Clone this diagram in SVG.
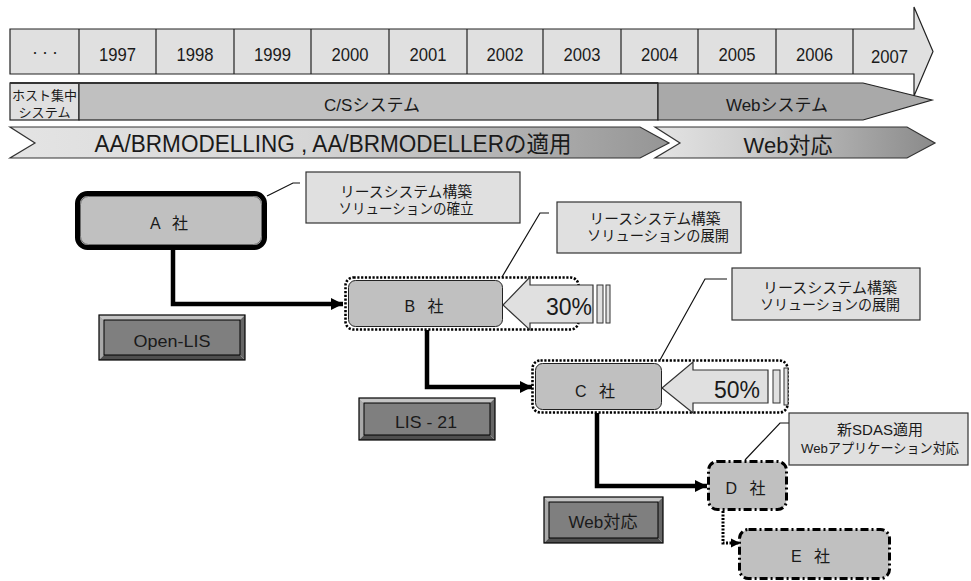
<svg xmlns="http://www.w3.org/2000/svg" width="971" height="581" viewBox="0 0 971 581">
<defs>
<style>
text{font-family:"Liberation Sans","Noto Sans CJK JP",sans-serif;fill:#1a1a1a}
.yr{font-size:19px;text-anchor:middle}
.cell{stroke:#222;stroke-width:1.2}
.call{fill:#e0e0e0;stroke:#333;stroke-width:1.2}
.ct{font-size:14.5px;text-anchor:middle}
.lead{fill:none;stroke:#111;stroke-width:1.2}
.conn{fill:none;stroke:#000;stroke-width:4.5}
.nt{font-size:16px;text-anchor:middle;word-spacing:8px}
.node{fill:#c0c0c0}
.dotbox{fill:none;stroke:#000;stroke-width:2.6;stroke-dasharray:2.2 1.6}
.dashdot{fill:#c0c0c0;stroke:#000;stroke-width:3;stroke-dasharray:8 3 2 3}
.pct{fill:#e0e0e0;stroke:#333;stroke-width:1.2}
.bar{fill:#e0e0e0;stroke:#333;stroke-width:1}
.pt{font-size:23px;text-anchor:end}
.bt{font-size:17px;text-anchor:middle}
.bvT{fill:#c4c4c4}.bvL{fill:#a9a9a9}.bvB{fill:#4f4f4f}.bvR{fill:#666}
.bin{fill:#7f7f7f;stroke:#000;stroke-width:1}
.bout{fill:none;stroke:#000;stroke-width:1.2}
</style>
<linearGradient id="g1" x1="0" y1="0" x2="1" y2="0">
<stop offset="0" stop-color="#e4e4e4"/><stop offset="0.45" stop-color="#d6d6d6"/><stop offset="1" stop-color="#959595"/>
</linearGradient>
<linearGradient id="g2" x1="0" y1="0" x2="1" y2="0">
<stop offset="0" stop-color="#e4e4e4"/><stop offset="0.3" stop-color="#d0d0d0"/><stop offset="1" stop-color="#8a8a8a"/>
</linearGradient>
<marker id="ah" viewBox="0 0 10 10" refX="10" refY="5" markerUnits="userSpaceOnUse" markerWidth="12" markerHeight="13" orient="auto"><path d="M0,0 L10,5 L0,10 z" fill="#000"/></marker>
<marker id="ah2" viewBox="0 0 10 10" refX="10" refY="5" markerUnits="userSpaceOnUse" markerWidth="9" markerHeight="10" orient="auto"><path d="M0,0 L10,5 L0,10 z" fill="#000"/></marker>
</defs>
<rect width="971" height="581" fill="#fff"/>

<g id="timeline">
<path d="M10,29 H914 V7 L933,51.5 L914,96 V74 H10 Z" fill="#e0e0e0" stroke="#222" stroke-width="1.2"/>
<path class="cell" d="M79,29V74M156,29V74M234,29V74M311,29V74M389,29V74M467,29V74M543,29V74M621,29V74M698,29V74M776,29V74M853,29V74"/>
<text x="30" y="57" style="font-size:10px">・・・</text>
<text class="yr" x="117.5" y="61" textLength="37" lengthAdjust="spacingAndGlyphs">1997</text>
<text class="yr" x="195" y="61" textLength="37" lengthAdjust="spacingAndGlyphs">1998</text>
<text class="yr" x="272.5" y="61" textLength="37" lengthAdjust="spacingAndGlyphs">1999</text>
<text class="yr" x="350" y="61" textLength="37" lengthAdjust="spacingAndGlyphs">2000</text>
<text class="yr" x="428" y="61" textLength="37" lengthAdjust="spacingAndGlyphs">2001</text>
<text class="yr" x="505" y="61" textLength="37" lengthAdjust="spacingAndGlyphs">2002</text>
<text class="yr" x="582" y="61" textLength="37" lengthAdjust="spacingAndGlyphs">2003</text>
<text class="yr" x="659.5" y="61" textLength="37" lengthAdjust="spacingAndGlyphs">2004</text>
<text class="yr" x="737" y="61" textLength="37" lengthAdjust="spacingAndGlyphs">2005</text>
<text class="yr" x="814.5" y="61" textLength="37" lengthAdjust="spacingAndGlyphs">2006</text>
<text class="yr" x="889.5" y="63" textLength="37" lengthAdjust="spacingAndGlyphs">2007</text>
</g>

<g id="systems">
<rect x="10" y="83" width="69" height="37" fill="#e0e0e0" stroke="#222" stroke-width="1.2"/>
<rect x="79" y="83" width="579" height="37" fill="#c0c0c0" stroke="#222" stroke-width="1.2"/>
<line x1="10" y1="83" x2="658" y2="83" stroke="#333" stroke-width="2"/>
<path d="M658,83 H863 L932,100 L863,120 H658 Z" fill="#a9a9a9" stroke="#222" stroke-width="1.2"/>
<text x="44.5" y="100" style="font-size:13px;text-anchor:middle" textLength="65" lengthAdjust="spacingAndGlyphs">ホスト集中</text>
<text x="44.5" y="117" style="font-size:13px;text-anchor:middle" textLength="52" lengthAdjust="spacingAndGlyphs">システム</text>
<text x="372" y="111" style="font-size:17px;text-anchor:middle">C/Sシステム</text>
<text x="777" y="111" style="font-size:17px;text-anchor:middle">Webシステム</text>
</g>

<g id="phases">
<path d="M10,127 H640 L669,143 L640,158 H10 L35,143 Z" fill="url(#g1)" stroke="#333" stroke-width="1.2"/>
<path d="M655,127 H907 L935,143 L907,158 H655 L680,143 Z" fill="url(#g2)" stroke="#333" stroke-width="1.2"/>
<text x="333" y="152" style="font-size:23px;text-anchor:middle" textLength="477" lengthAdjust="spacingAndGlyphs">AA/BRMODELLING , AA/BRMODELLERの適用</text>
<text x="788" y="153" style="font-size:22px;text-anchor:middle">Web対応</text>
</g>

<g id="connectors">
<path class="conn" d="M173,250 V304 H343" marker-end="url(#ah)"/>
<path class="conn" d="M427,330 V387 H532" marker-end="url(#ah)"/>
<path class="conn" d="M597,413 V486 H707" marker-end="url(#ah)"/>
<path d="M723,511 V543 H740" fill="none" stroke="#000" stroke-width="3" stroke-dasharray="2 1.5" marker-end="url(#ah2)"/>
<path class="lead" d="M267,196 L293,183 H300"/>
<path class="lead" d="M502,277 L540,213 H549"/>
<path class="lead" d="M660,360 L705,279 H727"/>
<path class="lead" d="M745,460 L780,423 H789"/>
</g>

<g id="nodeA">
<rect x="77.5" y="193.5" width="187" height="54" rx="10" fill="#c0c0c0" stroke="#000" stroke-width="5"/>
<rect x="80.5" y="196.5" width="181" height="48" rx="8" fill="none" stroke="#555" stroke-width="0.8"/>
<text class="nt" x="169" y="229">A 社</text>
</g>
<g id="calloutA">
<rect class="call" x="306" y="172" width="214" height="51"/>
<text class="ct" x="406" y="197" textLength="132" lengthAdjust="spacingAndGlyphs">リースシステム構築</text>
<text class="ct" x="406" y="214" textLength="135" lengthAdjust="spacingAndGlyphs">ソリューションの確立</text>
</g>

<g id="nodeB">
<rect class="dotbox" x="345.5" y="277.5" width="233" height="52" rx="8"/>
<rect class="node" x="348.5" y="280.5" width="154" height="46" rx="7" stroke="#222" stroke-width="1"/>
<path class="pct" d="M503,305 L530,277 V285 H593 V323 H530 V330 Z"/>
<rect class="bar" x="597" y="285" width="6" height="38"/>
<rect class="bar" x="606" y="285" width="4" height="38"/>
<text class="pt" x="592" y="315">30%</text>
<text class="nt" x="424" y="312">B 社</text>
</g>
<g id="calloutB">
<rect class="call" x="557" y="202" width="184" height="51"/>
<text class="ct" x="655" y="224" textLength="131" lengthAdjust="spacingAndGlyphs">リースシステム構築</text>
<text class="ct" x="658" y="241" textLength="142" lengthAdjust="spacingAndGlyphs">ソリューションの展開</text>
</g>

<g id="nodeC">
<rect class="dotbox" x="532.5" y="360.5" width="255" height="52" rx="8"/>
<rect class="node" x="535.5" y="363.5" width="126" height="46" rx="7" stroke="#222" stroke-width="1"/>
<path class="pct" d="M662,388 L693,362 V370 H768 V403 H693 V413 Z"/>
<rect class="bar" x="773" y="370" width="7" height="33"/>
<rect class="bar" x="784" y="368" width="4" height="37"/>
<text class="pt" x="760" y="398">50%</text>
<text class="nt" x="595" y="397">C 社</text>
</g>
<g id="calloutC">
<rect class="call" x="732" y="268" width="188" height="52"/>
<text class="ct" x="830" y="293" textLength="134" lengthAdjust="spacingAndGlyphs">リースシステム構築</text>
<text class="ct" x="830" y="310" textLength="140" lengthAdjust="spacingAndGlyphs">ソリューションの展開</text>
</g>

<g id="nodeD">
<rect class="dashdot" x="708.5" y="461.5" width="78" height="48" rx="9"/>
<text class="nt" x="745.5" y="494">D 社</text>
</g>
<g id="calloutD">
<rect class="call" x="789" y="413" width="179" height="52"/>
<text class="ct" x="880" y="435" textLength="86" lengthAdjust="spacingAndGlyphs">新SDAS適用</text>
<text x="880" y="453" style="font-size:13.5px;text-anchor:middle" textLength="158" lengthAdjust="spacingAndGlyphs">Webアプリケーション対応</text>
</g>

<g id="nodeE">
<rect class="dashdot" x="739.5" y="529.5" width="150" height="49" rx="9"/>
<text class="nt" x="810.5" y="562">E 社</text>
</g>

<g id="btnOpenLIS">
<path class="bvT" d="M99,315 H245 L240,320 H104 Z"/>
<path class="bvL" d="M99,315 L104,320 V355 L99,360 Z"/>
<path class="bvB" d="M99,360 L104,355 H240 L245,360 Z"/>
<path class="bvR" d="M245,315 V360 L240,355 V320 Z"/>
<rect class="bin" x="104" y="320" width="136" height="35"/>
<rect class="bout" x="99" y="315" width="146" height="45"/>
<text class="bt" x="172" y="347" textLength="77" lengthAdjust="spacingAndGlyphs">Open-LIS</text>
</g>
<g id="btnLIS21">
<path class="bvT" d="M359,398 H495 L490,403 H364 Z"/>
<path class="bvL" d="M359,398 L364,403 V435 L359,440 Z"/>
<path class="bvB" d="M359,440 L364,435 H490 L495,440 Z"/>
<path class="bvR" d="M495,398 V440 L490,435 V403 Z"/>
<rect class="bin" x="364" y="403" width="126" height="32"/>
<rect class="bout" x="359" y="398" width="136" height="42"/>
<text class="bt" x="426" y="428" textLength="62" lengthAdjust="spacingAndGlyphs">LIS - 21</text>
</g>
<g id="btnWeb">
<path class="bvT" d="M544,497 H663 L658,502 H549 Z"/>
<path class="bvL" d="M544,497 L549,502 V538 L544,543 Z"/>
<path class="bvB" d="M544,543 L549,538 H658 L663,543 Z"/>
<path class="bvR" d="M663,497 V543 L658,538 V502 Z"/>
<rect class="bin" x="549" y="502" width="109" height="36"/>
<rect class="bout" x="544" y="497" width="119" height="46"/>
<text class="bt" x="603" y="528" textLength="69" lengthAdjust="spacingAndGlyphs">Web対応</text>
</g>
</svg>
